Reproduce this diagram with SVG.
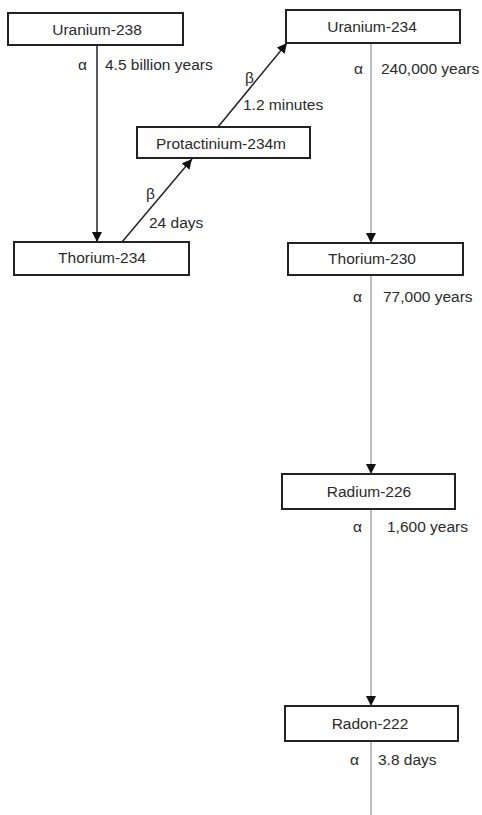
<svg xmlns="http://www.w3.org/2000/svg" width="482" height="815" viewBox="0 0 482 815">
<style>
.box{fill:#fff;stroke:#222;stroke-width:2}
.t{font-family:"Liberation Sans",Arial,sans-serif;font-size:15.5px;fill:#2a2a2a}
.c{text-anchor:middle}
.dark{stroke:#222;stroke-width:1.5;fill:none}
.grey{stroke:#aaa;stroke-width:1.5;fill:none}
</style>
<defs>
<marker id="ah" viewBox="0 0 10 10" refX="10" refY="5" markerWidth="10" markerHeight="10" markerUnits="userSpaceOnUse" orient="auto">
<path d="M0,0 L10,5 L0,10 z" fill="#111"/>
</marker>
</defs>
<g id="connectors">
<line class="dark" x1="97" y1="45" x2="97" y2="242" marker-end="url(#ah)"/>
<line class="dark" x1="122" y1="242" x2="192" y2="159" marker-end="url(#ah)"/>
<line class="dark" x1="218" y1="127" x2="287" y2="43" marker-end="url(#ah)"/>
<line class="grey" x1="371" y1="43" x2="371" y2="243" marker-end="url(#ah)"/>
<line class="grey" x1="371" y1="275" x2="371" y2="474" marker-end="url(#ah)"/>
<line class="grey" x1="371" y1="509" x2="371" y2="706" marker-end="url(#ah)"/>
<line class="grey" x1="371" y1="741" x2="371" y2="815"/>
<text class="t" x="78" y="70">α</text>
<text class="t" x="105" y="70">4.5 billion years</text>
<text class="t" x="146" y="199">β</text>
<text class="t" x="149" y="228">24 days</text>
<text class="t" x="245" y="83">β</text>
<text class="t" x="243" y="110">1.2 minutes</text>
<text class="t" x="354" y="74">α</text>
<text class="t" x="381" y="74">240,000 years</text>
<text class="t" x="353" y="302">α</text>
<text class="t" x="383" y="302">77,000 years</text>
<text class="t" x="353" y="532">α</text>
<text class="t" x="387" y="532">1,600 years</text>
<text class="t" x="350" y="765">α</text>
<text class="t" x="378" y="765">3.8 days</text>
</g>
<g id="u238"><rect class="box" x="8" y="13" width="175" height="32"/><text class="t c" x="97" y="35">Uranium-238</text></g>
<g id="u234"><rect class="box" x="286" y="10" width="174" height="33"/><text class="t c" x="372" y="32">Uranium-234</text></g>
<g id="pa234m"><rect class="box" x="137" y="127" width="173" height="31"/><text class="t c" x="221" y="149">Protactinium-234m</text></g>
<g id="th234"><rect class="box" x="14" y="242" width="175" height="33"/><text class="t c" x="102" y="263">Thorium-234</text></g>
<g id="th230"><rect class="box" x="288" y="243" width="175" height="32"/><text class="t c" x="372" y="264">Thorium-230</text></g>
<g id="ra226"><rect class="box" x="282" y="474" width="173" height="35"/><text class="t c" x="369" y="497">Radium-226</text></g>
<g id="rn222"><rect class="box" x="285" y="706" width="173" height="35"/><text class="t c" x="370" y="729">Radon-222</text></g>
</svg>
